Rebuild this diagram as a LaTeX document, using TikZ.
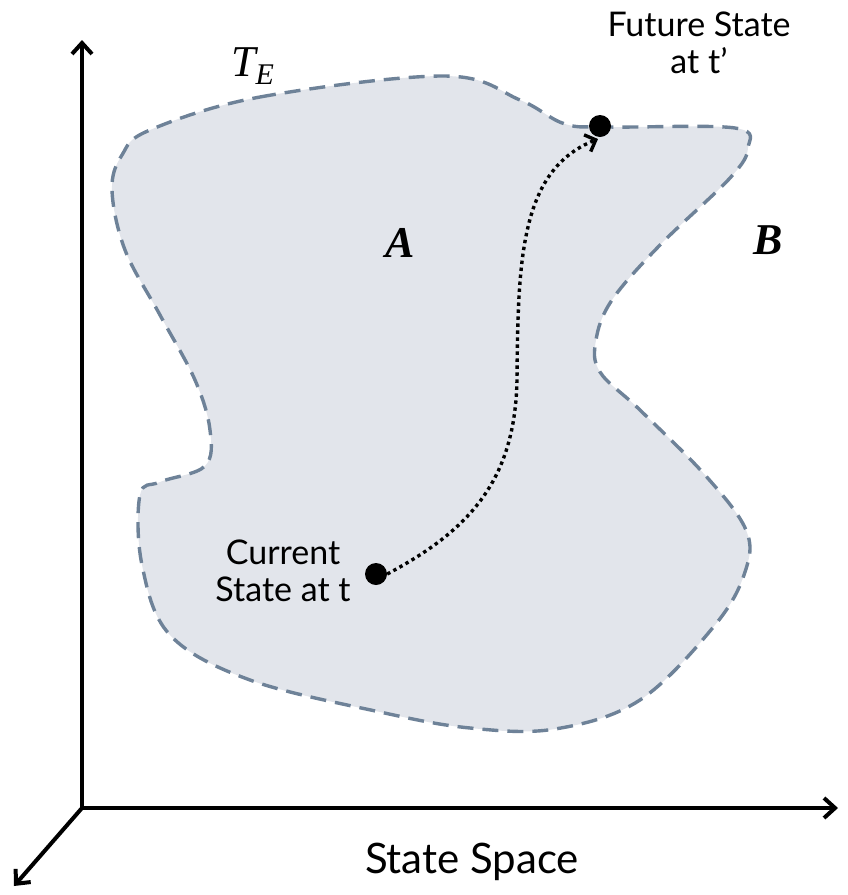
\documentclass[tikz,border=0pt]{standalone}
\usepackage{fontspec}
\setmainfont{Liberation Serif}
\newfontfamily\labelfont{Lato}
\usetikzlibrary{arrows.meta}
\definecolor{blobfill}{RGB}{226,229,235}
\definecolor{blobline}{RGB}{110,130,152}
\begin{document}
\begin{tikzpicture}[x=1pt,y=-1pt,
  axis/.style={line width=4pt,-{Straight Barb[length=11pt,width=20pt,line width=4pt]}},
  statedot/.style={circle,fill=black,inner sep=0pt,minimum size=22pt},
  lbl/.style={font=\labelfont\fontsize{34}{37}\selectfont,align=center,inner sep=0pt},
  region/.style={font=\fontsize{44}{48}\selectfont\bfseries\itshape,inner sep=0pt}]
\useasboundingbox (0,0) rectangle (848,895);
% blob
\draw[fill=blobfill,draw=blobline,line width=3.4pt,dash pattern=on 16pt off 9pt]
  plot[smooth cycle,tension=0.6] coordinates {
  (150,130) (260,97) (445,76) (520,100) (565,124) (610,127) (735,128) (748,148)
  (730,178) (660,245) (612,300) (596,340) (600,372) (640,410) (705,475) (746,530)
  (745,572) (715,625) (640,700) (555,729) (470,728) (380,712) (250,680) (170,635)
  (142,565) (140,495) (160,482) (205,466) (210,430) (195,380) (160,315) (125,250)
  (112,190) (122,155)};
% axes
\coordinate (O) at (82,808);
\coordinate (Y) at (82,40);
\coordinate (X) at (838,808);
\coordinate (Z) at (14,886);
\draw[axis] (O) -- (Y);
\draw[axis] (O) -- (X);
\draw[axis] (O) -- (Z);
% states
\node[statedot] (cur) at (376,574) {};
\node[statedot] (fut) at (600,126) {};
\draw[line width=3.4pt,dash pattern=on 3.4pt off 3.6pt,
  -{Straight Barb[length=9pt,width=18pt,line width=3.4pt]}]
  (cur.east) .. controls (470,530) and (515,480) .. (517,380)
  .. controls (518,260) and (520,170) .. (598,139);
% labels
\node[lbl] (curlbl) at (283,571) {Current\\State at t};
\node[lbl] (futlbl) at (699,43) {Future State\\at t’};
\node[font=\labelfont\fontsize{42}{48}\selectfont,inner sep=0pt] (ss) at (472,862) {State Space};
\node[inner sep=0pt,anchor=base west] (te) at (231,76)
  {\fontsize{44}{48}\selectfont\itshape T\kern0pt\raisebox{-8pt}{\fontsize{30}{34}\selectfont E}};
\node[region] (A) at (400,243) {A};
\node[region] (B) at (768,240) {B};
\end{tikzpicture}
\end{document}
